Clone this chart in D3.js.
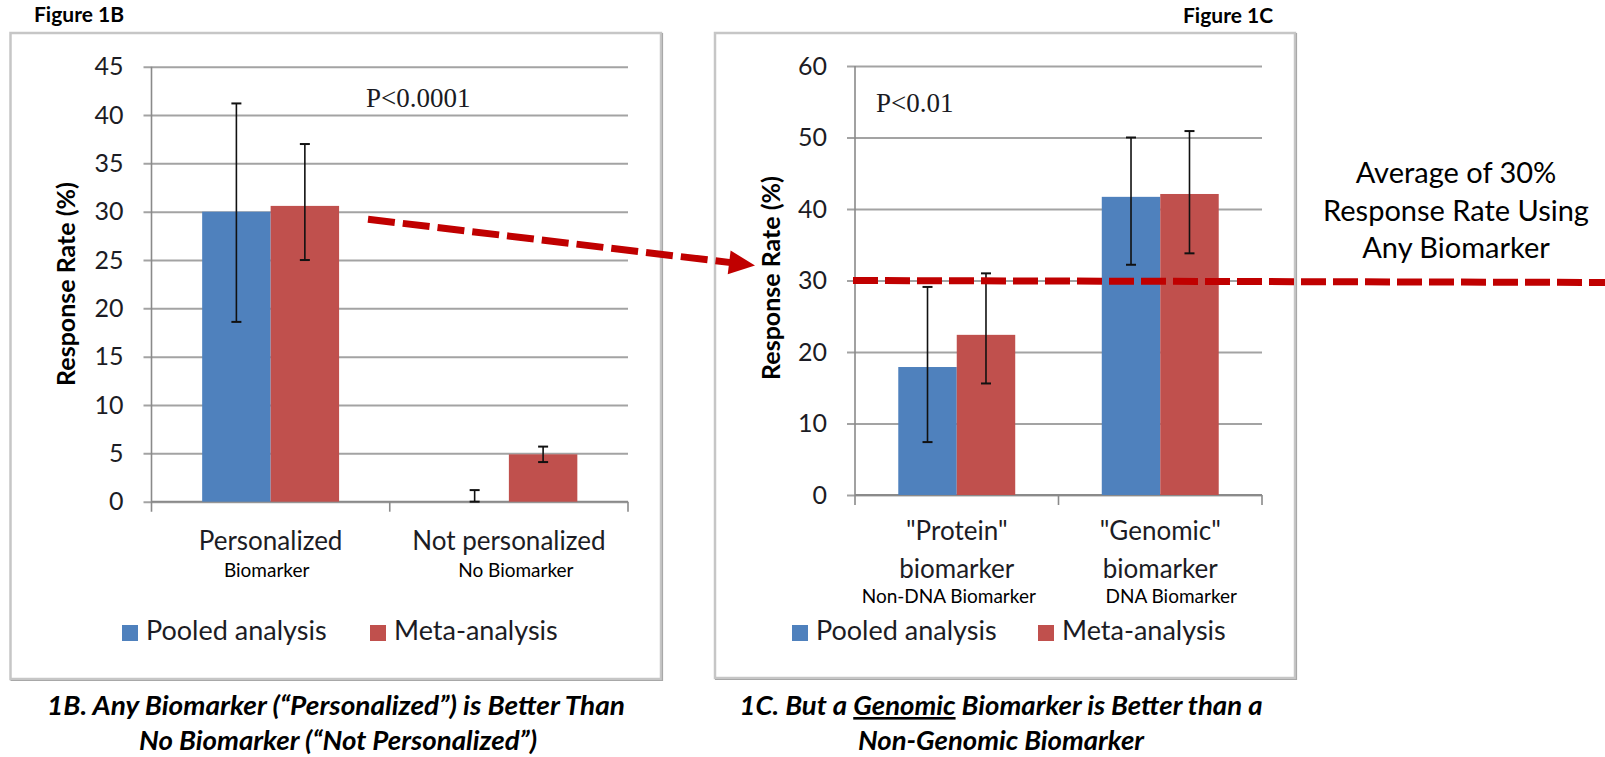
<!DOCTYPE html>
<html>
<head>
<meta charset="utf-8">
<script src="https://d3js.org/d3.v7.min.js"></script>
<style>
body { margin: 0; background: #fff; }
svg { display: block; font-family: Lato, "Open Sans", sans-serif; }
</style>
</head>
<body>
<svg id="drawing_region"></svg>
<script>
// series shared by both panels
const seriesNames = ["Pooled analysis", "Meta-analysis"];
const seriesColors = ["#4f81bd", "#c0504d"];

// Figure 1B
const categoriesB = [["Personalized"], ["Not personalized"]];
const subLabelsB = ["Biomarker", "No Biomarker"];
const pooledB = [30, 0];
const pooledLowB = [18.6, 0];
const pooledHighB = [41.2, 1.2];
const metaB = [30.6, 4.9];
const metaLowB = [25, 4.1];
const metaHighB = [37, 5.7];
const ticksB = [0, 5, 10, 15, 20, 25, 30, 35, 40, 45];

// Figure 1C
const categoriesC = [['"Protein"', 'biomarker'], ['"Genomic"', 'biomarker']];
const subLabelsC = ["Non-DNA Biomarker", "DNA Biomarker"];
const pooledC = [17.9, 41.7];
const pooledLowC = [7.4, 32.2];
const pooledHighC = [29.1, 50];
const metaC = [22.4, 42.1];
const metaLowC = [15.6, 33.8];
const metaHighC = [31, 50.9];
const ticksC = [0, 10, 20, 30, 40, 50, 60];
const averageRate = 30;

function buildRows(cats, subs, values, lows, highs) {
  return cats.map((c, i) => ({
    key: c.join(' '),
    lines: c,
    sub: subs[i],
    bars: seriesNames.map((s, j) => ({ series: s, value: values[j][i], low: lows[j][i], high: highs[j][i] }))
  }));
}

const svg = d3.select('#drawing_region').attr('width', 1605).attr('height', 757);

class BarChart {
  constructor(config, data) {
    this.config = config;
    this.data = data;
    this.init();
  }
  init() {
    let self = this;
    const c = self.config;
    self.chart = svg.append('g');
    self.xscale = d3.scaleBand().domain(self.data.map(d => d.key)).range([c.left, c.right]).paddingInner(0).paddingOuter(0);
    self.xinner = d3.scaleBand().domain(seriesNames).range([0, self.xscale.bandwidth()]).paddingInner(0).paddingOuter(0.74);
    self.yscale = d3.scaleLinear().domain([0, d3.max(c.ticks)]).range([c.bottom, c.top]);
    self.yaxis = d3.axisLeft(self.yscale).tickValues(c.ticks).tickSizeInner(-(c.right - c.left + 8)).tickSizeOuter(0).tickPadding(20);
    self.render();
  }
  render() {
    let self = this;
    const c = self.config;
    const g = self.chart;
    // frame
    g.append('rect').attr('x', c.frame[0]).attr('y', c.frame[1]).attr('width', c.frame[2]).attr('height', c.frame[3])
      .attr('fill', 'none').attr('stroke', '#c6c6c6').attr('stroke-width', 2.5);
    g.append('path')
      .attr('d', `M${c.frame[0] + c.frame[2] + 1.5},${c.frame[1]} V${c.frame[1] + c.frame[3] + 1.5} H${c.frame[0]}`)
      .attr('fill', 'none').attr('stroke', '#a8a8a8').attr('stroke-width', 1.2);
    // figure label
    g.append('text').attr('x', c.figX).attr('y', c.figY).text(c.figLabel)
      .attr('font-size', 21).attr('font-weight', 'bold').attr('fill', '#000');
    // gridlines + tick labels
    const ax = g.append('g').attr('transform', `translate(${c.left - 8},0)`).call(self.yaxis);
    ax.select('.domain').remove();
    ax.selectAll('.tick line').attr('stroke', '#a3a3a3').attr('stroke-width', 2);
    ax.selectAll('.tick text').attr('font-size', 25).attr('font-family', 'Lato, sans-serif').attr('fill', '#1c1c24');
    // y axis line and category ticks
    g.append('line').attr('x1', c.left).attr('x2', c.left).attr('y1', self.yscale(d3.max(c.ticks))).attr('y2', c.bottom + 10)
      .attr('stroke', '#8a8a8a').attr('stroke-width', 1.6);
    const bounds = self.data.map(d => self.xscale(d.key)).concat([c.right]);
    g.selectAll('.cattick').data(bounds.slice(1)).join('line')
      .attr('x1', d => d).attr('x2', d => d).attr('y1', c.bottom).attr('y2', c.bottom + 10)
      .attr('stroke', '#8a8a8a').attr('stroke-width', 1.6);
    g.append('line').attr('x1', c.left).attr('x2', c.right).attr('y1', c.bottom).attr('y2', c.bottom)
      .attr('stroke', '#8a8a8a').attr('stroke-width', 1.8);
    // y title
    g.append('text').attr('transform', `translate(${c.yTitleX},${c.yTitleY}) rotate(-90)`)
      .attr('text-anchor', 'middle').attr('font-size', 25).attr('font-weight', 'bold').attr('fill', '#000')
      .text('Response Rate (%)');
    // p value
    g.append('text').attr('x', c.pX).attr('y', c.pY).text(c.pText)
      .attr('font-family', '"Liberation Serif", "DejaVu Serif", serif').attr('font-size', 27).attr('fill', '#1a1a22');
    // bars
    const groups = g.selectAll('.grp').data(self.data).join('g')
      .attr('transform', d => `translate(${self.xscale(d.key)},0)`);
    groups.selectAll('rect').data(d => d.bars).join('rect')
      .attr('x', d => self.xinner(d.series))
      .attr('width', self.xinner.bandwidth())
      .attr('y', d => self.yscale(d.value))
      .attr('height', d => c.bottom - self.yscale(d.value))
      .attr('fill', (d, i) => seriesColors[i]);
    // error bars
    const eb = groups.selectAll('.err').data(d => d.bars).join('g')
      .attr('transform', d => `translate(${self.xinner(d.series) + self.xinner.bandwidth() / 2},0)`);
    eb.append('line').attr('y1', d => self.yscale(d.low)).attr('y2', d => self.yscale(d.high))
      .attr('stroke', '#111').attr('stroke-width', 1.6);
    eb.append('line').attr('x1', -5).attr('x2', 5).attr('y1', d => self.yscale(d.high)).attr('y2', d => self.yscale(d.high))
      .attr('stroke', '#111').attr('stroke-width', 2);
    eb.append('line').attr('x1', -5).attr('x2', 5).attr('y1', d => self.yscale(d.low)).attr('y2', d => self.yscale(d.low))
      .attr('stroke', '#111').attr('stroke-width', 2);
    // category labels
    const bw = self.xscale.bandwidth();
    self.data.forEach((d, i) => {
      const cx = self.xscale(d.key) + bw / 2;
      d.lines.forEach((ln, k) => {
        g.append('text').attr('x', cx).attr('y', c.catY + k * c.catLineH).attr('text-anchor', 'middle')
          .attr('font-size', 26).attr('fill', '#1c1c24').text(ln);
      });
      g.append('text').attr('x', cx + c.subDx[i]).attr('y', c.subY).attr('text-anchor', 'middle')
        .attr('font-size', 19).attr('fill', '#000').text(d.sub);
    });
    // legend
    seriesNames.forEach((s, i) => {
      g.append('rect').attr('x', c.legendX[i]).attr('y', c.legendY - 15).attr('width', 16).attr('height', 16).attr('fill', seriesColors[i]);
      g.append('text').attr('x', c.legendX[i] + 24).attr('y', c.legendY).attr('font-size', 27).attr('fill', '#1c1c24').text(s);
    });
  }
}

const chartB = new BarChart({
  frame: [10.5, 33, 650.5, 646],
  left: 151.5, right: 628, top: 66.7, bottom: 501.7,
  ticks: ticksB,
  figLabel: 'Figure 1B', figX: 34, figY: 22,
  yTitleX: 75, yTitleY: 284,
  pText: 'P<0.0001', pX: 366, pY: 107,
  catY: 550, catLineH: 38, subY: 577, subDx: [-4, 7],
  legendX: [122, 370], legendY: 640
}, buildRows(categoriesB, subLabelsB, [pooledB, metaB], [pooledLowB, metaLowB], [pooledHighB, metaHighB]));

const chartC = new BarChart({
  frame: [715, 33, 580, 645],
  left: 855, right: 1262, top: 66, bottom: 495,
  ticks: ticksC,
  figLabel: 'Figure 1C', figX: 1183, figY: 23,
  yTitleX: 780, yTitleY: 278,
  pText: 'P<0.01', pX: 876, pY: 112,
  catY: 540, catLineH: 38, subY: 603, subDx: [-8, 11],
  legendX: [792, 1038], legendY: 640
}, buildRows(categoriesC, subLabelsC, [pooledC, metaC], [pooledLowC, metaLowC], [pooledHighC, metaHighC]));

// annotations: arrow from 1B to the 30% level of 1C, and average line
const ann = svg.append('g');
const yAvg = chartC.yscale(averageRate);
ann.append('line').attr('x1', chartC.config.left - 2).attr('x2', 1605).attr('y1', yAvg).attr('y2', yAvg + 2)
  .attr('stroke', '#c00000').attr('stroke-width', 7).attr('stroke-dasharray', '25,7');

const start = [368, chartB.yscale(averageRate) + 7.5];
const tip = [755, yAvg - 15];
const len = Math.hypot(tip[0] - start[0], tip[1] - start[1]);
const u = [(tip[0] - start[0]) / len, (tip[1] - start[1]) / len];
const n = [-u[1], u[0]];
const headLen = 26, headHalf = 12;
const base = [tip[0] - headLen * u[0], tip[1] - headLen * u[1]];
ann.append('line').attr('x1', start[0]).attr('y1', start[1]).attr('x2', base[0] + 4 * u[0]).attr('y2', base[1] + 4 * u[1])
  .attr('stroke', '#c00000').attr('stroke-width', 7).attr('stroke-dasharray', '27,8');
ann.append('path')
  .attr('d', `M${tip[0]},${tip[1]} L${base[0] + headHalf * n[0]},${base[1] + headHalf * n[1]} L${base[0] - headHalf * n[0]},${base[1] - headHalf * n[1]} Z`)
  .attr('fill', '#c00000');

const avgText = ['Average of 30%', 'Response Rate Using', 'Any Biomarker'];
ann.selectAll('.avg').data(avgText).join('text')
  .attr('x', 1456).attr('y', (d, i) => 183 + i * 37.5).attr('text-anchor', 'middle')
  .attr('font-size', 29).attr('fill', '#000').text(d => d);

// captions
const capStyle = t => t.attr('text-anchor', 'middle').attr('font-size', 26).attr('font-weight', 'bold')
  .attr('font-style', 'italic').attr('fill', '#000').attr('lengthAdjust', 'spacingAndGlyphs');
capStyle(svg.append('text').attr('x', 336).attr('y', 715).attr('textLength', 578))
  .text('1B. Any Biomarker (\u201cPersonalized\u201d) is Better Than');
capStyle(svg.append('text').attr('x', 338).attr('y', 750).attr('textLength', 398))
  .text('No Biomarker (\u201cNot Personalized\u201d)');
const c1 = capStyle(svg.append('text').attr('x', 1001).attr('y', 715).attr('textLength', 523));
c1.append('tspan').text('1C. But a ');
c1.append('tspan').attr('text-decoration', 'underline').style('text-decoration', 'underline').text('Genomic');
c1.append('tspan').text(' Biomarker is Better than a');
capStyle(svg.append('text').attr('x', 1001).attr('y', 750).attr('textLength', 286))
  .text('Non-Genomic Biomarker');
</script>
</body>
</html>
